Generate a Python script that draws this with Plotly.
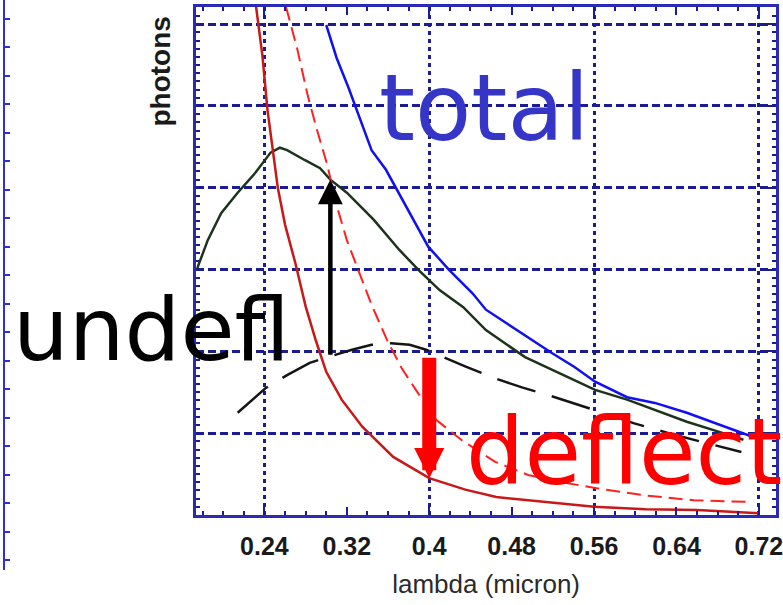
import plotly.graph_objects as go

# Photon yield versus wavelength (arbitrary units), one list pair per curve
total_x = [0.300, 0.310, 0.322, 0.332, 0.344, 0.358, 0.378, 0.399, 0.419, 0.442, 0.455,
           0.490, 0.519, 0.541, 0.561, 0.592, 0.619, 0.650, 0.683, 0.715, 0.722]
total_y = [5.99, 5.59, 5.21, 4.88, 4.46, 4.22, 3.77, 3.28, 3.00, 2.71, 2.51,
           2.22, 1.98, 1.81, 1.63, 1.44, 1.37, 1.25, 1.10, 0.95, 0.94]

undefl_x = [0.174, 0.185, 0.198, 0.214, 0.231, 0.246, 0.255, 0.262, 0.279, 0.294, 0.304,
            0.320, 0.346, 0.371, 0.390, 0.410, 0.433, 0.455, 0.493, 0.515, 0.561,
            0.592, 0.619, 0.650, 0.683, 0.705]
undefl_y = [2.99, 3.36, 3.69, 3.94, 4.18, 4.43, 4.49, 4.46, 4.34, 4.24, 4.10,
            3.94, 3.61, 3.24, 2.99, 2.75, 2.54, 2.26, 1.93, 1.80, 1.53,
            1.41, 1.28, 1.14, 1.01, 0.92]

undefl_dash_x = [0.214, 0.241, 0.262, 0.284, 0.304, 0.325, 0.344, 0.363, 0.381, 0.397,
                 0.436, 0.464, 0.490, 0.522, 0.561, 0.599, 0.638, 0.676, 0.703]
undefl_dash_y = [1.25, 1.55, 1.71, 1.86, 1.94, 2.02, 2.08, 2.10, 2.08, 2.02,
                 1.81, 1.67, 1.56, 1.44, 1.28, 1.12, 0.98, 0.86, 0.77]

deflect_x = [0.231, 0.238, 0.243, 0.248, 0.253, 0.260, 0.270, 0.280, 0.290, 0.300, 0.315,
             0.335, 0.365, 0.400, 0.435, 0.465, 0.520, 0.560, 0.610, 0.660, 0.720]
deflect_y = [6.30, 5.62, 4.95, 4.49, 4.00, 3.55, 3.08, 2.55, 2.13, 1.75, 1.41,
             1.08, 0.71, 0.45, 0.31, 0.22, 0.15, 0.10, 0.07, 0.06, 0.02]

deflect_dash_x = [0.261, 0.272, 0.282, 0.291, 0.301, 0.310, 0.320, 0.330, 0.344, 0.359,
                  0.373, 0.387, 0.407, 0.431, 0.464, 0.496, 0.529, 0.561, 0.609, 0.657, 0.710]
deflect_dash_y = [6.21, 5.69, 5.13, 4.71, 4.28, 3.79, 3.36, 3.02, 2.57, 2.14,
                  1.80, 1.53, 1.16, 0.92, 0.65, 0.49, 0.40, 0.33, 0.24, 0.18, 0.16]

# Arrows: (lambda, from, to)
undefl_arrow = [0.304, 1.94, 4.10]
deflect_arrow = [0.400, 1.94, 0.45]

x_range = [0.1738, 0.7366]
y_range = [0, 6.21]

FRAME = "#2a2ab8"
GRID = "#1c1c92"

fig = go.Figure()

fig.add_trace(go.Scatter(x=total_x, y=total_y, mode="lines",
                         line=dict(color="#1010f0", width=2.5)))
fig.add_trace(go.Scatter(x=undefl_x, y=undefl_y, mode="lines",
                         line=dict(color="#1c331c", width=2.5)))
fig.add_trace(go.Scatter(x=undefl_dash_x, y=undefl_dash_y, mode="lines",
                         line=dict(color="#151515", width=2.5, dash="40px,17px")))
fig.add_trace(go.Scatter(x=deflect_x, y=deflect_y, mode="lines",
                         line=dict(color="#c81818", width=2.5)))
fig.add_trace(go.Scatter(x=deflect_dash_x, y=deflect_dash_y, mode="lines",
                         line=dict(color="#ff2020", width=2, dash="14px,7px")))

# empty traces so the grid overlay axis and the neighbouring frame are laid out
fig.add_trace(go.Scatter(x=[], y=[], xaxis="x3", yaxis="y"))
fig.add_trace(go.Scatter(x=[], y=[], xaxis="x2", yaxis="y2"))

W, H = 783, 605
left_px, right_px, top_px, bottom_px = 198, 783, 7, 515

fig.update_layout(
    width=W, height=H,
    margin=dict(l=0, r=0, t=0, b=0),
    paper_bgcolor="white", plot_bgcolor="white",
    showlegend=False,
    xaxis=dict(
        domain=[left_px / W, right_px / W], range=x_range,
        tick0=0.24, dtick=0.08, ticks="inside", ticklen=8, tickwidth=2, tickcolor=GRID,
        showline=True, linewidth=3, linecolor=FRAME, mirror="ticks",
        showgrid=False, zeroline=False,
        minor=dict(tick0=0.24, dtick=0.02, ticks="inside", ticklen=4, tickwidth=2,
                   tickcolor=GRID, showgrid=False),
        tickfont=dict(family="Liberation Sans", size=25, color="#1a1a1a", weight="bold"),
        ticklabelstandoff=7, ticklabeloverflow="allow",
        title=dict(text="lambda (micron)", standoff=16,
                   font=dict(family="Liberation Sans", size=26, color="#2a2a2a")),
    ),
    xaxis3=dict(
        overlaying="x", range=x_range, tick0=0.24, dtick=0.16,
        showgrid=True, gridcolor=GRID, gridwidth=2.5, griddash="4px,4px",
        showticklabels=False, ticks="", showline=False, zeroline=False,
    ),
    yaxis=dict(
        domain=[1 - bottom_px / H, 1 - top_px / H], range=y_range,
        tick0=0, dtick=1, ticks="inside", ticklen=8, tickwidth=2, tickcolor=GRID,
        showticklabels=False,
        showline=True, linewidth=3, linecolor=FRAME, mirror="ticks",
        showgrid=True, gridcolor=GRID, gridwidth=2.5, griddash="8px,4px",
        zeroline=False,
        minor=dict(dtick=0.1, ticks="inside", ticklen=4, tickwidth=2,
                   tickcolor=GRID, showgrid=False),
    ),
    # right-hand frame of the neighbouring panel
    xaxis2=dict(domain=[0, 3.0 / W], visible=False, anchor="y2"),
    yaxis2=dict(
        domain=[1 - 570 / H, 1], anchor="x2", side="right", range=[-0.35, 19.65],
        dtick=1, showline=True, linecolor="#3030d0", linewidth=2,
        ticks="outside", ticklen=5, tickwidth=1.5, tickcolor="#3030d0",
        showticklabels=False, showgrid=False, zeroline=False,
    ),
)

fig.add_annotation(
    text="<b>photons</b>", xref="paper", yref="paper", x=162 / W, y=1 - 72 / H,
    textangle=-90, showarrow=False, xanchor="center", yanchor="middle",
    font=dict(family="Liberation Sans", size=28, color="#1a1a1a"),
)

fig.add_annotation(
    x=undefl_arrow[0], y=undefl_arrow[2], ax=undefl_arrow[0], ay=undefl_arrow[1],
    xref="x", yref="y", axref="x", ayref="y", text="",
    showarrow=True, arrowhead=2, arrowsize=1.1, arrowwidth=4.5, arrowcolor="black",
    standoff=0,
)
fig.add_annotation(
    x=deflect_arrow[0], y=deflect_arrow[2], ax=deflect_arrow[0], ay=deflect_arrow[1],
    xref="x", yref="y", axref="x", ayref="y", text="",
    showarrow=True, arrowhead=2, arrowsize=0.43, arrowwidth=14, arrowcolor="#ff0000",
    standoff=0,
)

fig.add_annotation(
    text="total", xref="x", yref="y", x=0.453, y=4.97, showarrow=False,
    xanchor="center", yanchor="middle",
    font=dict(family="DejaVu Sans", size=92, color="#3535c8"),
)
fig.add_annotation(
    text="undefl", xref="paper", yref="paper", x=153 / W, y=1 - 329 / H, showarrow=False,
    xanchor="center", yanchor="middle",
    font=dict(family="DejaVu Sans", size=88, color="black"),
)
fig.add_annotation(
    text="deflect", xref="x", yref="y", x=0.4336, y=0.76, showarrow=False,
    xanchor="left", yanchor="middle",
    font=dict(family="DejaVu Sans", size=92, color="#ff0000"),
)

fig.write_html("out.html")
